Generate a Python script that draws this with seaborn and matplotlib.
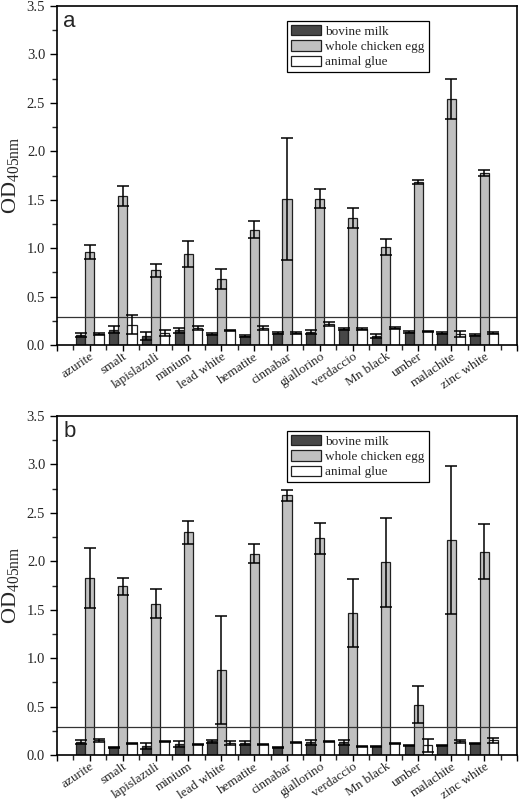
import matplotlib
matplotlib.use("Agg")
import matplotlib.pyplot as plt
from matplotlib.ticker import MultipleLocator, FormatStrFormatter
import numpy as np
import pandas as pd
import seaborn as sns

pigments = ["azurite", "smalt", "lapislazuli", "minium", "lead white", "hematite",
            "cinnabar", "giallorino", "verdaccio", "Mn black", "umber", "malachite",
            "zinc white"]
binders = ["bovine milk", "whole chicken egg", "animal glue"]

# panel a: means and errors
a_milk = [0.10, 0.16, 0.09, 0.15, 0.11, 0.09, 0.12, 0.13, 0.17, 0.09, 0.13, 0.12, 0.10]
a_milk_err = [0.02, 0.04, 0.04, 0.03, 0.01, 0.01, 0.01, 0.02, 0.01, 0.02, 0.01, 0.01, 0.01]
a_egg = [0.96, 1.54, 0.77, 0.94, 0.68, 1.19, 1.51, 1.51, 1.31, 1.01, 1.68, 2.54, 1.78]
a_egg_err = [0.07, 0.10, 0.07, 0.13, 0.10, 0.09, 0.63, 0.10, 0.10, 0.08, 0.02, 0.21, 0.03]
a_glue = [0.11, 0.21, 0.12, 0.18, 0.15, 0.18, 0.12, 0.22, 0.17, 0.18, 0.14, 0.11, 0.12]
a_glue_err = [0.01, 0.10, 0.03, 0.02, 0.01, 0.02, 0.01, 0.02, 0.01, 0.01, 0.005, 0.03, 0.01]

# panel b
b_milk = [0.13, 0.08, 0.09, 0.11, 0.14, 0.12, 0.08, 0.13, 0.13, 0.09, 0.10, 0.10, 0.12]
b_milk_err = [0.02, 0.005, 0.03, 0.03, 0.02, 0.02, 0.005, 0.03, 0.03, 0.005, 0.005, 0.005, 0.005]
b_egg = [1.83, 1.74, 1.56, 2.30, 0.88, 2.08, 2.68, 2.24, 1.47, 1.99, 0.52, 2.22, 2.10]
b_egg_err = [0.31, 0.09, 0.15, 0.12, 0.56, 0.10, 0.06, 0.16, 0.35, 0.46, 0.19, 0.76, 0.28]
b_glue = [0.15, 0.12, 0.14, 0.11, 0.12, 0.11, 0.13, 0.14, 0.09, 0.12, 0.10, 0.14, 0.15]
b_glue_err = [0.02, 0.005, 0.005, 0.005, 0.02, 0.005, 0.005, 0.005, 0.005, 0.005, 0.07, 0.02, 0.03]

cutoff = 0.29
colors = ["#474747", "#c0c0c0", "#ffffff"]

sns.set_style("ticks")
plt.rcParams["font.family"] = ["Liberation Serif", "DejaVu Serif"]
plt.rcParams["mathtext.fontset"] = "stix"


def panel(ax, means, errs, letter):
    # long table for seaborn
    rows = []
    for b, m in zip(binders, means):
        for p, v in zip(pigments, m):
            rows.append((p, b, v))
    df = pd.DataFrame(rows, columns=["pigment", "binder", "od"])
    sns.barplot(data=df, x="pigment", y="od", hue="binder", order=pigments,
                hue_order=binders, palette=colors, errorbar=None, width=0.84,
                edgecolor="#202020", linewidth=0.9, saturation=1, ax=ax)
    for cont, m, e in zip(ax.containers, means, errs):
        xs = [r.get_x() + r.get_width() / 2 for r in cont]
        ax.errorbar(xs, m, yerr=e, fmt="none", ecolor="black", elinewidth=1.1,
                    capsize=4, capthick=1.1, zorder=5)
    ax.axhline(cutoff, color="#333333", lw=0.9)
    ax.set_xlim(-1, 13)
    ax.set_ylim(0, 3.5)
    ax.yaxis.set_major_locator(MultipleLocator(0.5))
    ax.yaxis.set_minor_locator(MultipleLocator(0.25))
    ax.yaxis.set_major_formatter(FormatStrFormatter("%.1f"))
    ax.set_xticks(range(-1, 14))
    ax.set_xticklabels([""] + pigments + [""], rotation=34, ha="right",
                       rotation_mode="anchor", fontsize=9.5)
    ax.xaxis.set_minor_locator(MultipleLocator(0.5))
    ax.tick_params(axis="both", which="major", direction="out", length=5, width=1,
                   color="black")
    ax.tick_params(axis="x", which="major", length=4, pad=0)
    ax.tick_params(axis="y", labelsize=10.5)
    ax.tick_params(axis="both", which="minor", direction="out", length=3.5, width=1)
    for s in ax.spines.values():
        s.set_visible(True)
        s.set_linewidth(1.2)
        s.set_color("black")
    ax.set_xlabel("")
    ax.set_ylabel(r"OD$_{\mathregular{405nm}}$", fontsize=16, labelpad=4)
    ax.text(0.014, 0.985, letter, transform=ax.transAxes, ha="left", va="top",
            fontsize=16, family=["Liberation Sans", "DejaVu Sans"])
    leg = ax.legend(loc="upper left", bbox_to_anchor=(0.50, 0.955), fontsize=9.5,
                    frameon=True, fancybox=False, framealpha=1, edgecolor="black",
                    handlelength=2.3, handleheight=0.8, labelspacing=0.2,
                    borderpad=0.3, handletextpad=0.3, borderaxespad=0)
    leg.get_frame().set_linewidth(0.9)


fig = plt.figure(figsize=(5.2, 8.02), dpi=100)
ax1 = fig.add_axes([0.1096, 0.5698, 0.8846, 0.4227])
ax2 = fig.add_axes([0.1096, 0.0586, 0.8846, 0.4227])
panel(ax1, [a_milk, a_egg, a_glue], [a_milk_err, a_egg_err, a_glue_err], "a")
panel(ax2, [b_milk, b_egg, b_glue], [b_milk_err, b_egg_err, b_glue_err], "b")

fig.savefig("out.png", dpi=100)
